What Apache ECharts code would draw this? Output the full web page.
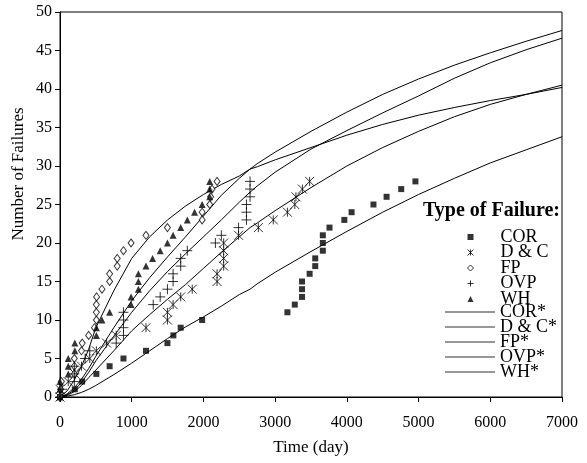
<!DOCTYPE html>
<html>
<head>
<meta charset="utf-8">
<script src="https://cdn.jsdelivr.net/npm/echarts@6/dist/echarts.min.js"></script>
<style>
  html, body { margin: 0; padding: 0; background: #fff; }
  #chart { width: 587px; height: 463px; }
</style>
</head>
<body>
<div id="chart"></div>
<script>
// observed failures: [day, cumulative count]
const corPoints = [[0,0],[207,1],[309,2],[507,3],[692,4],[885,5],[1199,6],[1498,7],[1581,8],[1683,9],[1982,10],[3171,11],[3274,12],[3375,13],[3375,14],[3375,15],[3481,16],[3559,17],[3559,18],[3665,19],[3665,20],[3665,21],[3758,22],[3965,23],[4066,24],[4371,25],[4554,26],[4758,27],[4956,28]];
const dcPoints = [[0,0],[0,1],[115,2],[207,3],[300,4],[415,5],[507,6],[650,7],[784,8],[1199,9],[1498,10],[1498,11],[1577,12],[1683,13],[1844,14],[2190,15],[2190,16],[2282,17],[2282,18],[2282,19],[2282,20],[2490,21],[2766,22],[2974,23],[3171,24],[3274,25],[3290,26],[3380,27],[3481,28]];
const fpPoints = [[0,0],[10,1],[20,2],[200,3],[200,4],[200,5],[300,6],[310,7],[400,8],[480,9],[507,10],[507,11],[507,12],[510,13],[585,14],[692,15],[692,16],[798,17],[798,18],[885,19],[991,20],[1199,21],[1498,22],[1982,23],[1982,24],[2088,25],[2100,26],[2120,27],[2190,28]];
const ovpPoints = [[0,0],[30,1],[200,2],[200,3],[200,4],[350,5],[415,6],[784,7],[885,8],[885,9],[885,10],[885,11],[1300,12],[1397,13],[1498,14],[1577,15],[1577,16],[1683,17],[1683,18],[1775,19],[2167,20],[2250,21],[2490,22],[2600,23],[2600,24],[2600,25],[2650,26],[2650,27],[2650,28]];
const whPoints = [[0,0],[0,1],[0,2],[115,3],[115,4],[115,5],[207,6],[207,7],[507,8],[507,9],[585,10],[692,11],[991,12],[991,13],[1093,14],[1093,15],[1093,16],[1199,17],[1291,18],[1397,19],[1498,20],[1577,21],[1683,22],[1775,23],[1876,24],[1982,25],[2088,26],[2088,27],[2088,28]];

// model curves sampled at these days
const modelDays = [0,100,200,300,400,500,750,1000,1250,1500,1750,2000,2250,2500,2650,2750,3000,3500,4000,4500,5000,5500,6000,6500,7000];
const corModel = [0,0.1,0.3,0.6,1,1.5,2.9,4.4,6,7.6,9.1,10.4,11.8,13.3,14,14.7,16.2,18.9,21.5,24,26.3,28.4,30.4,32.1,33.8];
const dcModel  = [0,0.2,0.7,1.5,2.5,3.5,6,8.6,10.7,12.7,14.6,16.7,18.8,20.8,22,22.6,24.2,27.2,30,32.4,34.5,36.4,38,39.3,40.5];
const fpModel  = [0,0.8,2.2,4,6.2,9,13.8,18,20.8,23,24.8,26.3,27.6,28.7,29.6,29.9,30.8,32.4,34,35.4,36.6,37.6,38.5,39.3,40.2];
const ovpModel = [0,0.3,0.9,1.9,3.2,4.7,7.9,11,13.8,16.3,18.6,20.8,23,25.3,26.6,27.4,29.2,32.2,34.6,36.9,39.1,41.4,43.4,45.1,46.6];
const whModel  = [0,0.4,1.2,2.3,3.7,5.3,9,12.5,15.5,18.2,20.8,23.5,26.2,28.4,29.6,30.3,31.8,34.5,37,39.3,41.3,43.1,44.7,46.2,47.6];

const xTicks = [0, 7000, 1000];
const yTicks = [0, 50, 5];

const FONT = '"Liberation Serif", "Times New Roman", serif';
const starPath = 'path://M0,0L10,10M10,0L0,10M5,0L5,10';
const plusPath = 'path://M5,0L5,10M0,5L10,5';
const strokeOnly = { color: 'none', borderColor: '#000', borderWidth: 1 };

const chart = echarts.init(document.getElementById('chart'));

function pair(days, vals) {
  return days.map((d, i) => [d, vals[i]]);
}

function modelSeries(name, vals) {
  return {
    name: name,
    type: 'line',
    data: pair(modelDays, vals),
    symbol: 'none',
    showSymbol: false,
    smooth: false,
    silent: true,
    z: 2,
    lineStyle: { color: '#000', width: 1 },
    itemStyle: { color: '#000' }
  };
}

const axisCommon = {
  axisLine: { lineStyle: { color: '#000', width: 1 } },
  axisTick: { show: true, inside: false, length: 5, lineStyle: { color: '#000' } },
  splitLine: { show: false },
  axisLabel: { color: '#000', fontFamily: FONT, fontSize: 16, formatter: (v) => String(v) }
};

const option = {
  backgroundColor: '#fff',
  animation: false,
  title: {
    text: 'Type of Failure:',
    left: 423,
    top: 201,
    padding: 0,
    textStyle: { fontFamily: FONT, fontSize: 20, fontWeight: 'bold', color: '#000' }
  },
  grid: {
    left: 60, right: 25, top: 12, bottom: 66,
    show: true, borderColor: '#000', borderWidth: 1
  },
  legend: [
    {
      data: [
        { name: 'COR' },
        { name: 'D & C', itemStyle: strokeOnly },
        { name: 'FP', itemStyle: { color: '#fff', borderColor: '#000', borderWidth: 1 } },
        { name: 'OVP', itemStyle: strokeOnly },
        { name: 'WH' }
      ],
      orient: 'vertical',
      left: 465, top: 228,
      itemWidth: 6, itemHeight: 6, itemGap: -2.5, padding: 0,
      selectedMode: false,
      formatter: (n) => '{a|' + n + '}',
      textStyle: {
        rich: { a: { fontFamily: FONT, fontSize: 18, lineHeight: 15, color: '#000', padding: [0, 0, 0, 22] } }
      }
    },
    {
      data: ['COR*', 'D & C*', 'FP*', 'OVP*', 'WH*'].map((n) => ({ name: n, icon: 'rect' })),
      orient: 'vertical',
      left: 445, top: 303,
      itemWidth: 50, itemHeight: 1, itemGap: -3, padding: 0,
      selectedMode: false,
      itemStyle: { color: '#333' },
      textStyle: { fontFamily: FONT, fontSize: 18, lineHeight: 15, color: '#000' }
    }
  ],
  xAxis: Object.assign({}, axisCommon, {
    type: 'value',
    min: xTicks[0], max: xTicks[1], interval: xTicks[2],
    name: 'Time (day)',
    nameLocation: 'middle',
    nameGap: 42,
    nameTextStyle: { fontFamily: FONT, fontSize: 17, color: '#000' },
    axisLabel: Object.assign({}, axisCommon.axisLabel, { margin: 18 })
  }),
  yAxis: Object.assign({}, axisCommon, {
    type: 'value',
    min: yTicks[0], max: yTicks[1], interval: yTicks[2],
    axisLabel: Object.assign({}, axisCommon.axisLabel, { margin: 8 })
  }),
  graphic: [{
    type: 'text',
    x: 19, y: 174,
    rotation: Math.PI / 2,
    style: {
      text: 'Number of Failures',
      font: '17px ' + FONT,
      fill: '#000',
      textAlign: 'center',
      textVerticalAlign: 'middle'
    }
  }],
  series: [
    { name: 'COR', type: 'scatter', data: corPoints, symbol: 'rect', symbolSize: 6, z: 5, itemStyle: { color: '#000' } },
    { name: 'D & C', type: 'scatter', data: dcPoints, symbol: starPath, symbolSize: 9, z: 5, itemStyle: strokeOnly },
    { name: 'FP', type: 'scatter', data: fpPoints, symbol: 'diamond', symbolSize: [6, 8], z: 5, itemStyle: { color: '#fff', borderColor: '#000', borderWidth: 1 } },
    { name: 'OVP', type: 'scatter', data: ovpPoints, symbol: plusPath, symbolSize: 10, z: 5, itemStyle: strokeOnly },
    { name: 'WH', type: 'scatter', data: whPoints, symbol: 'triangle', symbolSize: 7, z: 5, itemStyle: { color: '#000' } },
    modelSeries('COR*', corModel),
    modelSeries('D & C*', dcModel),
    modelSeries('FP*', fpModel),
    modelSeries('OVP*', ovpModel),
    modelSeries('WH*', whModel)
  ]
};

chart.setOption(option);
</script>
</body>
</html>
